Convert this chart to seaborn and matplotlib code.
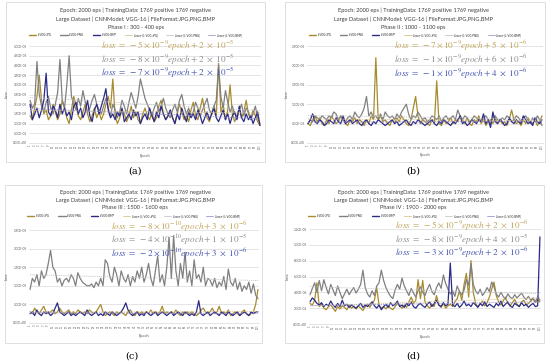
import numpy as np
import pandas as pd
import matplotlib
matplotlib.use("Agg")
import matplotlib.pyplot as plt
import seaborn as sns
from matplotlib.lines import Line2D
from matplotlib.patches import Rectangle

# ---------------- data (loss values in units of 1e-6) ----------------
SERIES = ["L-VGG-JPG", "L-VGG-PNG", "L-VGG-BMP"]
TREND_LABELS = ["Linear (L-VGG-JPG)", "Linear (L-VGG-PNG)", "Linear (L-VGG-BMP)"]
TITLE_LINE1 = "Epoch: 2000 eps | TrainingData: 1769 positive 1769 negative"
TITLE_LINE2 = "Large Dataset | CNNModel: VGG-16 | FileFormat:JPG,PNG,BMP"
PHASES = ["Phase I : 300 - 400 eps", "Phase II : 1000 - 1100 eps",
          "Phase III : 1500 - 1600 eps", "Phase IV : 1900 - 2000 eps"]
PANEL_TAGS = ["a", "b", "c", "d"]
X_LABEL = "Epoch"
Y_LABEL = "Loss"
X_TICK_LABELS = [str(v) for v in range(1, 102, 2)]

A_YTICKS = [0, 5, 10, 15, 20, 25, 30, 35, 40, 45, 50]
B_YTICKS = [0, 5, 10, 15, 20, 25]
C_YTICKS = [0, 5, 10, 15, 20, 25]
D_YTICKS = [0, 2, 4, 6, 8, 10, 12]

A_JPG = [14, 12, 18, 24, 35, 22, 15, 17, 12, 14,
         20, 16, 12, 15, 22, 18, 13, 10, 17, 24,
         19, 14, 12, 16, 20, 15, 11, 14, 18, 13,
         16, 12, 15, 20, 24, 18, 33, 14, 10, 13,
         17, 15, 11, 14, 19, 13, 16, 12, 10, 15,
         18, 14, 12, 16, 11, 13, 19, 22, 15, 12,
         14, 17, 13, 10, 15, 20, 16, 12, 14, 11,
         17, 21, 14, 12, 18, 23, 16, 13, 11, 15,
         19, 14, 41, 16, 20, 12, 17, 30, 15, 11,
         14, 18, 13, 16, 22, 15, 12, 17, 14, 11, 9]
A_PNG = [22, 18, 20, 42, 25, 19, 16, 21, 24, 18,
         15, 20, 26, 43, 22, 18, 30, 45, 24, 20,
         17, 23, 19, 27, 21, 16, 18, 22, 25, 20,
         17, 15, 19, 23, 18, 14, 20, 17, 13, 16,
         22, 19, 15, 21, 26, 22, 18, 24, 33, 28,
         23, 20, 17, 14, 18, 21, 16, 19, 23, 18,
         15, 13, 17, 20, 16, 22, 25, 19, 15, 18,
         14, 16, 21, 18, 14, 17, 20, 23, 17, 15,
         19, 22, 40, 24, 18, 27, 21, 16, 19, 15,
         13, 17, 20, 14, 18, 16, 12, 15, 19, 13, 10]
A_BMP = [20, 12, 15, 18, 13, 17, 22, 36, 16, 14,
         19, 17, 13, 20, 15, 18, 14, 16, 12, 19,
         21, 15, 18, 13, 16, 22, 14, 11, 17, 20,
         15, 19, 23, 28, 17, 13, 15, 12, 16, 14,
         18, 11, 13, 15, 12, 17, 14, 16, 10, 13,
         15, 12, 18, 14, 11, 16, 13, 19, 15, 12,
         14, 17, 13, 10, 15, 12, 18, 14, 11, 16,
         13, 15, 12, 17, 14, 10, 13, 16, 12, 15,
         18, 13, 11, 14, 17, 12, 15, 10, 14, 16,
         12, 19, 13, 11, 15, 12, 14, 10, 13, 16, 9]

B_JPG = [5, 4.5, 6, 7, 5.5, 6.5, 5, 4.5, 6, 5,
         7, 6, 5, 5.5, 7, 6, 5, 4.5, 6, 5.5,
         6.5, 5, 6, 5.5, 4.5, 6, 5, 7, 6, 22,
         6, 7, 5.5, 6, 5, 4.5, 6, 5, 6.5, 5.5,
         7, 6, 5, 4.5, 6, 9, 12, 7, 5, 6,
         5.5, 5, 4.5, 6, 5, 16, 5, 4.5, 6, 5,
         5.5, 6.5, 5, 6, 5.5, 7, 6, 5, 6.5, 5,
         4.5, 6, 5.5, 7, 5, 6, 4.5, 5.5, 6, 5,
         6.5, 5, 6, 5, 5.5, 4.5, 6, 8.5, 6, 5,
         5.5, 4.5, 6, 5, 6.5, 5.5, 5, 6, 4.5, 5.5, 7]
B_PNG = [5, 6, 5.5, 7, 6.5, 6, 7, 6.5, 6, 7,
         6.5, 8, 7.5, 6, 7, 6, 5.5, 6.5, 7, 6,
         8, 7, 6.5, 7.5, 9, 12, 7, 8, 6.5, 7,
         6, 7.5, 6, 8, 7, 6.5, 7, 6, 7.5, 6.5,
         8, 9, 10, 7.5, 6, 7, 6.5, 8, 7, 6,
         6.5, 5.5, 6, 7, 6.5, 6, 7, 5.5, 6.5, 7,
         6, 6.5, 7, 6, 8.5, 7, 6, 7, 6.5, 5.5,
         6, 7, 6.5, 6, 5.5, 6.5, 7, 6, 5, 6.5,
         7, 6, 5.5, 6.5, 6, 7, 6.5, 5.5, 6, 7,
         6.5, 5.5, 6.5, 7, 6, 5, 6.5, 5.5, 7, 6, 4.5]
B_BMP = [5, 6, 7.5, 5.5, 5, 6, 5.5, 4.5, 5, 6,
         5.5, 5, 6.5, 5.5, 5, 7, 5, 5.5, 6, 5,
         5.5, 6, 5, 4.5, 5.5, 6, 5, 4.5, 5.5, 5,
         6, 5.5, 5, 4.5, 5, 5.5, 6, 5, 5.5, 4.5,
         5, 5.5, 6, 5, 4.5, 5.5, 5, 6, 5.5, 5,
         4.5, 5, 5.5, 6, 5, 4.5, 5.5, 5, 6, 5.5,
         5, 4.5, 5.5, 5, 6, 7, 5, 5.5, 4.5, 5,
         6, 5.5, 5, 6, 5.5, 7.5, 5, 6, 4, 8,
         5.5, 5, 6, 5.5, 4.5, 5, 6.5, 5.5, 5, 6,
         5.5, 5, 7, 6, 5, 5.5, 4.5, 6.5, 5.5, 5, 6]

C_JPG = [3, 2.5, 4, 3, 2.5, 3.5, 4.5, 3, 2.5, 3,
         3.5, 2.5, 3, 4, 3, 2.5, 3, 3.5, 2.5, 3,
         2.5, 3.5, 3, 2.5, 3, 2.5, 3.5, 3, 2.5, 3,
         4, 5, 3, 2, 2.5, 3, 2.5, 2, 3, 2.5,
         3, 2.5, 2, 3, 3.5, 2.5, 2, 3, 2.5, 3,
         2.5, 3, 2.5, 3.5, 2.5, 3, 2.5, 3, 4.5, 2.5,
         3, 2.5, 3, 2.5, 3.5, 2.5, 2, 3, 2.5, 3,
         2.5, 3, 2.5, 2, 2.5, 3.5, 4, 3, 2.5, 3,
         4, 2.5, 3, 4.5, 2.5, 3, 2.5, 3.5, 2, 2.5,
         3, 2.5, 2, 3, 3.5, 2.5, 2, 2.5, 3, 5, 9]
C_PNG = [9, 12, 11, 13, 10, 14, 12, 13, 16, 19.5,
         15, 14, 11, 12, 10, 11.5, 12, 11, 13, 12,
         10, 13.5, 12, 11, 10.5, 10, 10, 10.5, 9.5, 11,
         10, 12, 10, 17, 16, 12.5, 11, 15, 13, 10,
         14, 12, 11, 13, 10, 12.5, 11, 14, 12, 15,
         11, 13, 16, 12, 10, 14, 18, 11, 13, 10,
         15, 23, 12, 23.5, 14, 10, 16, 12, 19, 11,
         14, 10, 17, 12, 13, 11, 15, 10, 12, 11.5,
         10, 12, 9.5, 11, 10, 12.5, 9, 14.5, 11, 10,
         12, 9, 11, 8.5, 10, 9, 11, 8, 10.5, 7.5, 6.5]
C_BMP = [2.5, 3, 2, 3.5, 2.5, 2, 3, 2.5, 3, 2,
         2.5, 4, 5.4, 3, 2.5, 2, 2.5, 3, 2, 2.5,
         2, 2.5, 3, 2.5, 2, 3.5, 2.5, 2, 2.5, 3,
         2, 2.5, 2, 3, 2.5, 2, 3, 2.5, 2, 2.5,
         3, 4, 5.4, 3.5, 2.5, 2, 2.5, 3, 2, 2.5,
         2, 3, 2.5, 2, 2.5, 3, 2, 2.5, 3, 2.5,
         2, 2.5, 3, 2, 2.5, 3, 2.5, 2, 3, 2.5,
         2, 2.5, 2, 3, 6, 2.5, 2, 2.5, 3, 2,
         2.5, 3, 2.5, 2, 3, 2.5, 2, 3, 2.5, 2,
         2.5, 3, 2, 2.5, 3, 2.5, 2, 3, 2.5, 3, 3]

D_JPG = [2.6, 2.4, 3, 5.2, 2.2, 2.5, 2, 1.8, 2.2, 2.4,
         2, 1.6, 2.2, 1.9, 2.3, 2.1, 1.8, 2.4, 2, 2.2,
         1.9, 2.3, 2, 1.7, 2.2, 2.5, 2.1, 2.6, 3, 4.6,
         2.4, 2, 2.2, 1.9, 2.3, 2, 1.8, 2.2, 2.6, 2.3,
         2, 2.4, 2.1, 2.8, 3.4, 2.6, 3, 5.6, 3.2, 5.5,
         2.8, 2.3, 2, 2.5, 2.2, 3.6, 2.4, 2.1, 2.6, 2,
         2.3, 2.5, 2.2, 2.8, 3.2, 4.2, 3, 5, 6.4, 3.4,
         8, 4, 2.6, 2.2, 2.5, 2.9, 2.3, 2.7, 3.4, 4.4,
         5.3, 3.6, 2.8, 2.4, 2.9, 3.4, 2.6, 2.3, 2.7, 3.1,
         2.5, 2.2, 2.8, 3, 2.4, 2.6, 2.9, 3.2, 2.7, 3, 2.8]
D_PNG = [3.7, 4.5, 5.2, 4, 5.5, 4.2, 5.6, 4.6, 3.8, 5,
         4.3, 3.6, 4.8, 4, 3.2, 3.8, 4.4, 3.7, 4.2, 4.6,
         3.9, 4.4, 5, 6.8, 4.6, 3.8, 3.4, 4.2, 3.6, 4.8,
         5.2, 6.8, 5.5, 4.6, 4, 3.5, 3.2, 4.3, 5, 4.4,
         5.8, 4.8, 4.2, 3.6, 4.5, 3.9, 3.4, 4.2, 4.7, 4,
         3.6, 4.4, 5, 4.1, 3.7, 4.6, 5.2, 4.5, 6.2, 5.1,
         4.4, 3.8, 4.2, 3.5, 4.8, 4.1, 3.7, 4.3, 5.6, 4.9,
         7.6, 5, 4.2, 3.8, 4.4, 3.6, 4, 4.6, 4.1, 5.3,
         4.7, 3.8, 3.4, 4, 3.5, 3.1, 3.8, 3.4, 3.2, 3.7,
         3.3, 3.6, 3.9, 3.4, 3.1, 3.5, 3, 3.3, 2.8, 3.4, 3]
D_BMP = [2.8, 3.3, 3, 2.6, 2.4, 2.7, 2.2, 2.5, 2.3, 2.9,
         2.4, 2.1, 2.6, 2.2, 3, 2.3, 2.5, 2.1, 2.4, 2.2,
         2, 2.3, 2.6, 2.1, 2.4, 2.2, 2.5, 2.8, 2.3, 2,
         2.4, 1.8, 2.2, 2.5, 2.1, 2.7, 2.3, 2.5, 2.9, 2.2,
         2.4, 2.1, 2.6, 2.3, 2.8, 2.2, 2, 2.4, 2.6, 2.3,
         2.1, 2.5, 2.8, 2.2, 2.6, 3, 2.4, 2.2, 2.7, 2.3,
         2.5, 7.7, 2.4, 2.2, 2.6, 2.1, 2.4, 2.9, 2.3, 2.5,
         2.2, 2.7, 2.4, 2.1, 2.6, 2.3, 2.8, 2.2, 2.5, 2.3,
         2.1, 2.6, 2.3, 2.9, 2.2, 2.5, 2.8, 2.3, 2.1, 2.6,
         2.4, 2.2, 2.7, 2.3, 2.5, 2.1, 2.4, 2.6, 2.2, 2.3, 11]

A_EQ = [r"$loss\ =\ -5\times10^{-9}epoch+2\ \times\ 10^{-5}$",
        r"$loss\ =\ -8\times10^{-9}epoch+2\ \times\ 10^{-5}$",
        r"$loss\ =\ -7\times10^{-9}epoch+2\ \times\ 10^{-5}$"]
B_EQ = [r"$loss\ =\ -7\times10^{-9}epoch+5\ \times\ 10^{-6}$",
        r"$loss\ =\ -1\times10^{-9}epoch+6\ \times\ 10^{-6}$",
        r"$loss\ =\ -1\times10^{-9}epoch+4\ \times\ 10^{-6}$"]
C_EQ = [r"$loss\ =\ -8\times10^{-10}epoch+3\ \times\ 10^{-6}$",
        r"$loss\ =\ -4\times10^{-10}epoch+1\ \times\ 10^{-5}$",
        r"$loss\ =\ -2\times10^{-10}epoch+3\ \times\ 10^{-6}$"]
D_EQ = [r"$loss\ =\ -5\times10^{-9}epoch+2\ \times\ 10^{-6}$",
        r"$loss\ =\ -8\times10^{-9}epoch+4\ \times\ 10^{-5}$",
        r"$loss\ =\ -3\times10^{-9}epoch+2\ \times\ 10^{-6}$"]

# ---------------- style / layout ----------------
sns.set_theme(style="white")
plt.rcParams["font.family"] = ["Lato", "DejaVu Sans"]
plt.rcParams["mathtext.fontset"] = "stix"

W, H = 550, 363
LINE_COLORS = ["#A88B2E", "#808080", "#2B2A86"]
TREND_COLORS = ["#D8C58E", "#C8C8C8", "#9A98D2"]
EQ_COLORS = ["#C0A45A", "#8E8E8E", "#4756B0"]
TXT = "#404040"

PANELS = [
    dict(jpg=A_JPG, png=A_PNG, bmp=A_BMP, yt=A_YTICKS, eq=A_EQ, phase=PHASES[0], tag=PANEL_TAGS[0],
         box=(6, 2, 265, 162), ax=(28.9, 46, 261.1, 143), cx=136, ty=(10, 19, 27), ly=35,
         eqx=101, eqy=(46, 59.5, 73), tagpos=(135, 171), lblx=7, epy=156),
    dict(jpg=B_JPG, png=B_PNG, bmp=B_BMP, yt=B_YTICKS, eq=B_EQ, phase=PHASES[1], tag=PANEL_TAGS[1],
         box=(285, 2, 545, 162), ax=(306.8, 46, 543.2, 143), cx=413, ty=(10, 19, 27), ly=35,
         eqx=394, eqy=(46, 60, 74), tagpos=(413, 171), lblx=287, epy=155),
    dict(jpg=C_JPG, png=C_PNG, bmp=C_BMP, yt=C_YTICKS, eq=C_EQ, phase=PHASES[2], tag=PANEL_TAGS[2],
         box=(5, 185, 262, 343), ax=(28.9, 230, 259.1, 323), cx=135, ty=(192, 200, 208), ly=216,
         eqx=111, eqy=(226.5, 240, 253.5), tagpos=(132, 356), lblx=7, epy=336),
    dict(jpg=D_JPG, png=D_PNG, bmp=D_BMP, yt=D_YTICKS, eq=D_EQ, phase=PHASES[3], tag=PANEL_TAGS[3],
         box=(285, 185, 544, 343), ax=(308.9, 229, 541.1, 324), cx=413, ty=(192, 200, 208), ly=216,
         eqx=395, eqy=(226, 239.5, 253), tagpos=(413, 356), lblx=288, epy=337),
]

fig = plt.figure(figsize=(W / 100, H / 100), dpi=100)
fig.patch.set_facecolor("white")


def fx(x):
    return x / W


def fy(y):
    return 1 - y / H


for p in PANELS:
    l, t, r, b = p["box"]
    fig.patches.append(Rectangle((fx(l), fy(b)), fx(r - l), (b - t) / H, transform=fig.transFigure,
                                 fill=False, edgecolor="#D9D9D9", lw=0.6, zorder=0))
    for line, yy in zip([TITLE_LINE1, TITLE_LINE2, p["phase"]], p["ty"]):
        fig.text(fx(p["cx"]), fy(yy), line, ha="center", va="center", fontsize=4.1, color=TXT)

    al, at, ar, ab = p["ax"]
    ax = fig.add_axes([fx(al), fy(ab), fx(ar - al), (ab - at) / H])
    n = len(p["jpg"])
    frames = []
    for name, vals in zip(SERIES, [p["jpg"], p["png"], p["bmp"]]):
        frames.append(pd.DataFrame({"idx": np.arange(len(vals)), "loss": vals, "series": name}))
    df = pd.concat(frames, ignore_index=True)
    sns.lineplot(data=df, x="idx", y="loss", hue="series", hue_order=SERIES,
                 palette=dict(zip(SERIES, LINE_COLORS)), lw=0.9, legend=False, ax=ax,
                 estimator=None)
    for name, tc in zip(SERIES, TREND_COLORS):
        sub = df[df["series"] == name]
        sns.regplot(data=sub, x="idx", y="loss", scatter=False, ci=None, truncate=True, ax=ax,
                    line_kws=dict(color=tc, lw=0.6, ls=(0, (1.5, 1))))
    yt = p["yt"]
    ax.set_xlim(-0.5, n - 0.5)
    ax.set_ylim(yt[0], yt[-1])
    ax.set_yticks(yt)
    ax.set_yticklabels([f"{v * 1e-6:.2E}" for v in yt], fontsize=2.3, color="#595959")
    ax.set_xticks(np.arange(0, n, 2))
    ax.set_xticklabels(X_TICK_LABELS[: len(np.arange(0, n, 2))], fontsize=1.9, rotation=90, color="#595959")
    ax.tick_params(axis="both", length=0, pad=1.2)
    ax.yaxis.grid(True, color="#D9D9D9", lw=0.5)
    ax.set_axisbelow(True)
    for s in ["top", "right", "left"]:
        ax.spines[s].set_visible(False)
    ax.spines["bottom"].set_color("#D9D9D9")
    ax.spines["bottom"].set_linewidth(0.5)
    ax.set_xlabel("")
    ax.set_ylabel("")
    ax.patch.set_alpha(0)

    fig.text(fx((al + ar) / 2), fy(p["epy"]), X_LABEL, ha="center", va="center", fontsize=2.8, color="#595959")
    fig.text(fx(p["lblx"]), fy((at + ab) / 2), Y_LABEL, ha="center", va="center", rotation=90,
             fontsize=2.8, color="#595959")

    handles = [Line2D([], [], color=c, lw=1.0) for c in LINE_COLORS] + \
              [Line2D([], [], color=c, lw=0.6) for c in TREND_COLORS]
    fig.legend(handles, SERIES + TREND_LABELS, loc="center",
               bbox_to_anchor=(fx((p["box"][0] + p["box"][2]) / 2), fy(p["ly"])), ncol=6,
               fontsize=2.0, frameon=False, handlelength=2.6, handletextpad=0.6, columnspacing=3.0,
               borderpad=0.2)

    for eq, c, yy in zip(p["eq"], EQ_COLORS, p["eqy"]):
        fig.text(fx(p["eqx"]), fy(yy), eq, ha="left", va="center", fontsize=6.6, color=c)

    fig.text(fx(p["tagpos"][0]), fy(p["tagpos"][1]), f"({p['tag']})", ha="center", va="center",
             fontsize=7, color="black", family=["DejaVu Serif"])

fig.savefig("out.png", dpi=100, facecolor="white")
